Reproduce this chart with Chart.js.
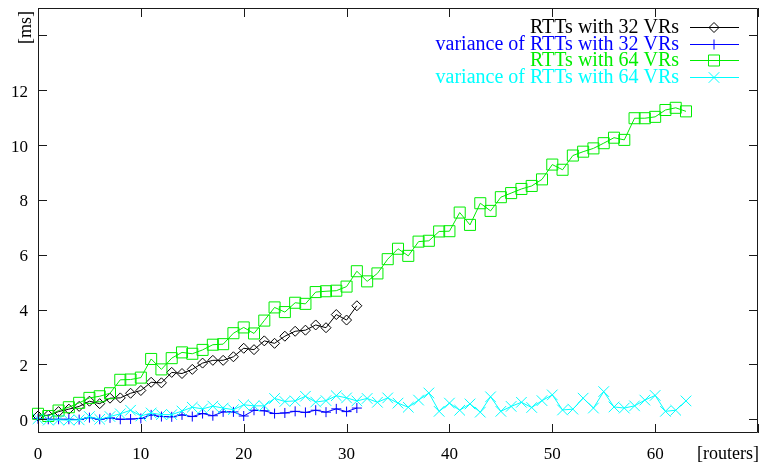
<!DOCTYPE html>
<html>
<head>
<meta charset="utf-8">
<script src="https://cdn.jsdelivr.net/npm/chart.js@4/dist/chart.umd.min.js"></script>
<style>
  html, body { margin: 0; padding: 0; background: #fff; }
  canvas { display: block; }
</style>
</head>
<body>
<canvas id="c" width="760" height="465"></canvas>
<script>
// ---- data ----
const routers32 = [0,1,2,3,4,5,6,7,8,9,10,11,12,13,14,15,16,17,18,19,20,21,22,23,24,25,26,27,28,29,30,31];
const routers64 = [0,1,2,3,4,5,6,7,8,9,10,11,12,13,14,15,16,17,18,19,20,21,22,23,24,25,26,27,28,29,30,31,
                   32,33,34,35,36,37,38,39,40,41,42,43,44,45,46,47,48,49,50,51,52,53,54,55,56,57,58,59,60,61,62,63];
const rtt32 = [0.12,0.15,0.28,0.37,0.47,0.66,0.57,0.77,0.78,0.95,1.05,1.35,1.33,1.71,1.67,1.82,
               2.05,2.15,2.15,2.28,2.59,2.54,2.86,2.77,3.03,3.21,3.25,3.44,3.34,3.82,3.62,4.14];
const var32 = [0.02,0.00,0.00,0.00,-0.01,0.06,0.00,0.05,0.00,0.01,0.03,0.16,0.10,0.09,0.16,0.10,
               0.21,0.13,0.27,0.27,0.12,0.33,0.31,0.21,0.23,0.29,0.25,0.33,0.26,0.38,0.28,0.41];
const rtt64 = [0.20,0.12,0.32,0.44,0.60,0.78,0.84,0.95,1.44,1.45,1.52,2.20,1.82,2.23,2.44,2.39,
               2.53,2.72,2.74,3.14,3.35,3.13,3.60,4.08,3.91,4.25,4.21,4.64,4.67,4.69,4.84,5.40,
               5.03,5.32,5.84,6.22,5.96,6.48,6.51,6.85,6.86,7.54,7.09,7.88,7.60,8.10,8.25,8.40,
               8.51,8.75,9.29,9.10,9.62,9.76,9.88,10.07,10.27,10.19,10.98,10.98,11.03,11.28,11.36,11.23];
const var64 = [0.02,-0.03,-0.02,-0.03,-0.02,0.10,0.00,0.10,0.20,0.33,0.12,0.23,0.17,0.17,0.30,0.44,
               0.38,0.48,0.41,0.35,0.53,0.49,0.49,0.76,0.65,0.67,0.84,0.63,0.68,0.86,0.78,0.67,
               0.76,0.62,0.78,0.59,0.44,0.70,0.96,0.29,0.59,0.33,0.56,0.26,0.82,0.29,0.47,0.62,
               0.43,0.68,0.89,0.34,0.37,0.77,0.41,1.01,0.45,0.41,0.49,0.70,0.87,0.29,0.33,0.67];
const seriesNames = ['RTTs with 32 VRs', 'variance of RTTs with 32 VRs', 'RTTs with 64 VRs', 'variance of RTTs with 64 VRs'];
const xTickValues = [0,10,20,30,40,50,60,70];
const xTickLabels = ['0','10','20','30','40','50','60',''];
const xUnitLabel = '[routers]';
const yTickValues = [0,2,4,6,8,10,12,14];
const yTickLabels = ['0','2','4','6','8','10','12',''];
const yUnitLabel = '[ms]';

// ---- helpers ----
const pts = (xs, ys) => ys.map((v, i) => ({ x: xs[i], y: v }));
const SERIF = '"Liberation Serif", "DejaVu Serif", serif';

const frameTicks = {
  id: 'frameTicks',
  afterDatasetsDraw(chart) {
    const { ctx, chartArea: a, scales } = chart;
    ctx.save();
    ctx.strokeStyle = '#1a1a1a';
    ctx.lineWidth = 1;
    ctx.beginPath();
    ctx.rect(Math.round(a.left) + 0.5, Math.round(a.top) + 0.5,
             Math.round(a.right - a.left) - 1, Math.round(a.bottom - a.top) - 1);
    const L = 9;
    xTickValues.forEach(v => {
      const px = Math.round(scales.x.getPixelForValue(v)) + 0.5;
      ctx.moveTo(px, a.bottom); ctx.lineTo(px, a.bottom - L);
      ctx.moveTo(px, a.top); ctx.lineTo(px, a.top + L);
    });
    yTickValues.forEach(v => {
      const py = Math.round(scales.y.getPixelForValue(v)) + 0.5;
      ctx.moveTo(a.left, py); ctx.lineTo(a.left + L, py);
      ctx.moveTo(a.right, py); ctx.lineTo(a.right - L, py);
    });
    ctx.stroke();

    // unit labels
    ctx.fillStyle = '#000';
    ctx.font = '18px ' + SERIF;
    ctx.textAlign = 'right';
    ctx.textBaseline = 'alphabetic';
    ctx.fillText(xUnitLabel, a.right + 1, 459);
    const yPx = scales.y.getPixelForValue(14);
    ctx.save();
    ctx.translate(31, yPx - 8);
    ctx.rotate(-Math.PI / 2);
    ctx.textAlign = 'center';
    ctx.fillText(yUnitLabel, 0, 0);
    ctx.restore();

    // legend (gnuplot style, top-right inside)
    const textRight = 679, lx0 = 690, lx1 = 739, mx = 714;
    const rowY = [27, 43.5, 60, 76.5];
    ctx.font = '20px ' + SERIF;
    ctx.textAlign = 'right';
    ctx.textBaseline = 'middle';
    chart.data.datasets.forEach((ds, i) => {
      const y = rowY[i];
      ctx.fillStyle = ds.borderColor;
      ctx.fillText(ds.label, textRight, y + 1);
      ctx.strokeStyle = ds.borderColor;
      ctx.lineWidth = 1;
      ctx.beginPath();
      ctx.moveTo(lx0, Math.round(y) + 0.5); ctx.lineTo(lx1, Math.round(y) + 0.5);
      ctx.stroke();
      ctx.fillStyle = 'rgba(0,0,0,0)';
      Chart.helpers.drawPoint(ctx, { pointStyle: ds.pointStyle, radius: ds.pointRadius, rotation: 0, borderWidth: 1 }, mx, Math.round(y) + 0.5);
    });
    ctx.restore();
  }
};

const mk = (label, xs, ys, color, style, radius, order) => ({
  label, data: pts(xs, ys), borderColor: color, backgroundColor: 'rgba(0,0,0,0)',
  borderWidth: 1, pointStyle: style, pointRadius: radius, pointBorderWidth: 1,
  pointBorderColor: color, pointBackgroundColor: 'rgba(0,0,0,0)', tension: 0, order, clip: false
});

new Chart(document.getElementById('c'), {
  type: 'line',
  data: {
    datasets: [
      mk(seriesNames[0], routers32, rtt32, '#000000', 'rectRot', 5, 4),
      mk(seriesNames[1], routers32, var32, '#0000ff', 'cross', 5, 3),
      mk(seriesNames[2], routers64, rtt64, '#00ee00', 'rect', 7.8, 2),
      mk(seriesNames[3], routers64, var64, '#00ffff', 'crossRot', 7.5, 1)
    ]
  },
  options: {
    responsive: false,
    animation: false,
    devicePixelRatio: 1,
    layout: { autoPadding: false, padding: { top: 8, right: 2, left: 0, bottom: 0 } },
    plugins: { legend: { display: false }, tooltip: { enabled: false } },
    scales: {
      x: {
        type: 'linear', min: 0, max: 70,
        afterBuildTicks: s => { s.ticks = xTickValues.map(v => ({ value: v })); },
        afterFit: s => { s.height = 32; s.paddingLeft = 0; s.paddingRight = 0; },
        grid: { display: false, drawTicks: false },
        border: { display: false },
        ticks: {
          color: '#000', padding: 11, maxRotation: 0, autoSkip: false,
          font: { family: SERIF, size: 17 },
          callback: (v) => xTickLabels[xTickValues.indexOf(v)]
        }
      },
      y: {
        type: 'linear', min: -0.5, max: 15,
        afterBuildTicks: s => { s.ticks = yTickValues.map(v => ({ value: v })); },
        afterFit: s => { s.width = 38; s.paddingTop = 0; s.paddingBottom = 0; },
        grid: { display: false, drawTicks: false },
        border: { display: false },
        ticks: {
          color: '#000', padding: 10, autoSkip: false, labelOffset: 2,
          font: { family: SERIF, size: 17 },
          callback: (v) => yTickLabels[yTickValues.indexOf(v)]
        }
      }
    }
  },
  plugins: [frameTicks]
});
</script>
</body>
</html>
